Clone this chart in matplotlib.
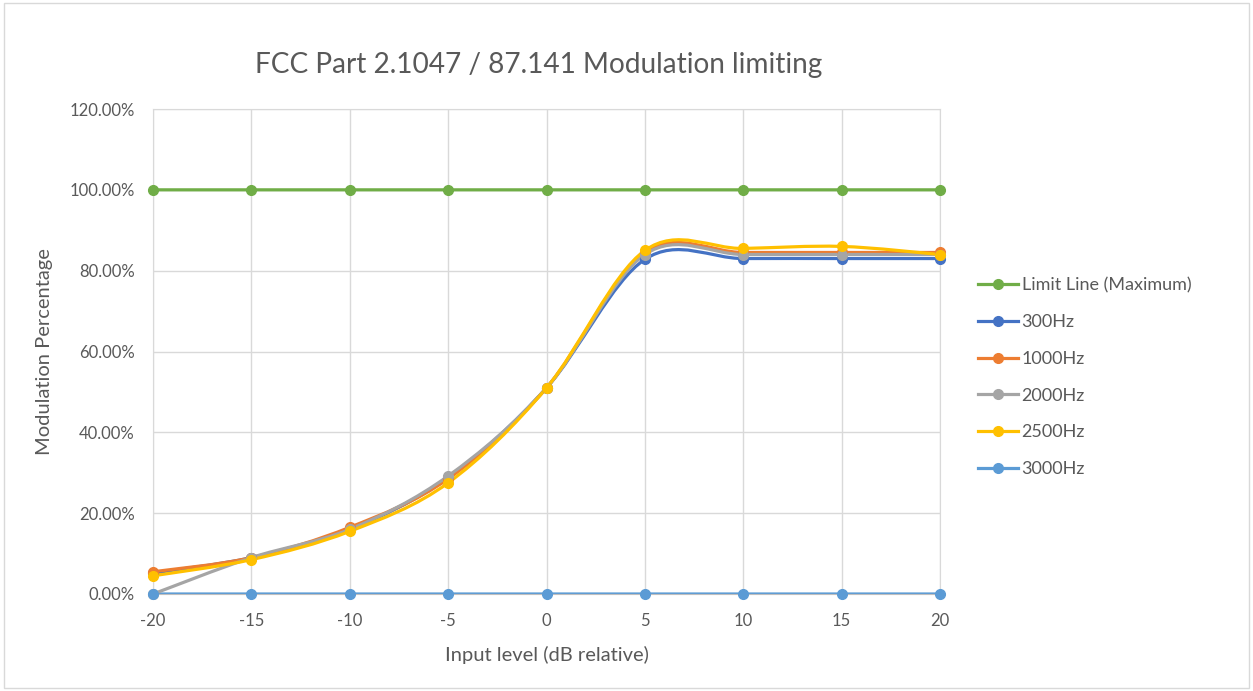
import numpy as np
import matplotlib
matplotlib.use('Agg')
import matplotlib.pyplot as plt
from matplotlib.path import Path
from matplotlib.patches import PathPatch, Rectangle
from matplotlib.lines import Line2D
from matplotlib.ticker import FuncFormatter

plt.rcParams['font.family'] = ['Lato', 'DejaVu Sans']
plt.rcParams['axes.unicode_minus'] = False

# data
levels = [-20, -15, -10, -5, 0, 5, 10, 15, 20]
limit_line = [100, 100, 100, 100, 100, 100, 100, 100, 100]
hz300 = [5.2, 9.0, 16.0, 28.8, 51.0, 82.8, 83.0, 83.0, 83.0]
hz1000 = [5.5, 9.0, 16.5, 28.5, 51.0, 84.5, 84.5, 84.5, 84.5]
hz2000 = [0.0, 9.0, 16.0, 29.2, 51.0, 84.0, 84.0, 84.0, 84.0]
hz2500 = [4.5, 8.5, 15.5, 27.5, 51.0, 85.0, 85.5, 86.0, 84.0]
hz3000 = [0, 0, 0, 0, 0, 0, 0, 0, 0]

series_names = ['Limit Line (Maximum)', '300Hz', '1000Hz', '2000Hz', '2500Hz', '3000Hz']
series_vals = [limit_line, hz300, hz1000, hz2000, hz2500, hz3000]
colors = ['#70AD47', '#4472C4', '#ED7D31', '#A5A5A5', '#FFC000', '#5B9BD5']

txt = '#595959'
grid_c = '#D9D9D9'


def smooth_path(xs, ys):
    # excel style smoothed line: cubic bezier through the points
    pts = np.column_stack([xs, ys]).astype(float)
    n = len(pts)
    verts = [pts[0]]
    codes = [Path.MOVETO]
    for i in range(n - 1):
        p0 = pts[max(i - 1, 0)]
        p1 = pts[i]
        p2 = pts[i + 1]
        p3 = pts[min(i + 2, n - 1)]
        c1 = p1 + (p2 - p0) / 6.0
        c2 = p2 - (p3 - p1) / 6.0
        verts += [c1, c2, p2]
        codes += [Path.CURVE4] * 3
    return Path(verts, codes)


fig = plt.figure(figsize=(12.53, 6.91), dpi=100)
fig.patches.append(Rectangle((0.003, 0.004), 0.994, 0.992, transform=fig.transFigure,
                             fill=False, edgecolor='#D9D9D9', lw=1))
ax = fig.add_axes([153 / 1253, 1 - 594 / 691, (940 - 153) / 1253, (594 - 109) / 691])

ax.set_xlim(-20, 20)
ax.set_ylim(0, 120)
ax.set_xticks(levels)
ax.set_yticks(np.arange(0, 121, 20))
ax.yaxis.set_major_formatter(FuncFormatter(lambda v, p: '%.2f%%' % v))
ax.grid(True, color=grid_c, lw=1)
ax.set_axisbelow(True)
for s in ax.spines.values():
    s.set_color(grid_c)
ax.spines['bottom'].set_color('#BFBFBF')
ax.tick_params(length=0, colors=txt, labelsize=12, pad=13)
ax.tick_params(axis='x', pad=14)

handles = []
for k, (name, vals, c) in enumerate(zip(series_names, series_vals, colors)):
    last = k == len(series_names) - 1
    patch = PathPatch(smooth_path(levels, vals), facecolor='none', edgecolor=c,
                      lw=2.3, capstyle='round', joinstyle='round',
                      clip_on=last, zorder=2 if last else 3)
    ax.add_patch(patch)
    ax.plot(levels, vals, linestyle='none', marker='o', ms=7, color=c,
            clip_on=False, zorder=4)
    handles.append(Line2D([0], [0], color=c, lw=2.3, marker='o', ms=7))

ax.set_xlabel('Input level (dB relative)', color=txt, fontsize=14.5, labelpad=12)
ax.set_ylabel('Modulation Percentage', color=txt, fontsize=14.5, labelpad=12)

fig.text(539 / 1253, 1 - 65 / 691, 'FCC Part 2.1047 / 87.141 Modulation limiting',
         ha='center', va='center', color=txt, fontsize=20.2)

leg = fig.legend(handles, series_names, loc='upper left',
                 bbox_to_anchor=(962 / 1253, 1 - 261 / 691), frameon=False,
                 fontsize=13, labelcolor=txt, handlelength=2.2, handletextpad=0.2,
                 labelspacing=1.15)

fig.savefig('out.png', dpi=100)
